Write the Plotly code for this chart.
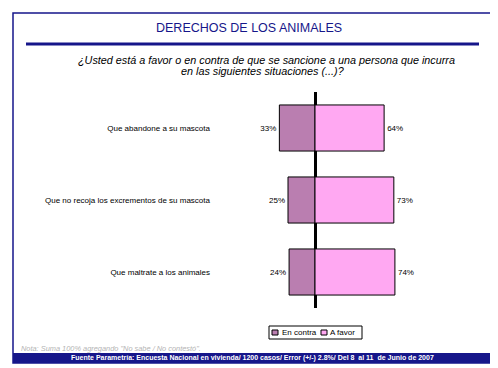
import plotly.graph_objects as go

categories = ["Que abandone a su mascota",
              "Que no recoja los excrementos de su mascota",
              "Que maltrate a los animales"]
en_contra = [33, 25, 24]
a_favor = [64, 73, 74]
series_names = ["En contra", "A favor"]
colors = ["#BA7EB0", "#FFA8F2"]

# page has an 8px body margin; figure coordinates are page coordinates minus OFF
OFF = 8
W, H = 490, 360
NAVY = "#16168A"
FONT = "Liberation Sans, Arial, sans-serif"

def px(x):
    return (x - OFF) / W

def py(y):
    return 1 - (y - OFF) / H

fig = go.Figure()
fig.add_trace(go.Bar(
    y=categories, x=[-v for v in en_contra], orientation="h",
    name=series_names[0], marker=dict(color=colors[0], line=dict(color="black", width=1)),
    text=[f"{v}%" for v in en_contra], textposition="outside",
    textfont=dict(size=8, color="black", family=FONT), cliponaxis=False, showlegend=False))
fig.add_trace(go.Bar(
    y=categories, x=a_favor, orientation="h",
    name=series_names[1], marker=dict(color=colors[1], line=dict(color="black", width=1)),
    text=[f"{v}%" for v in a_favor], textposition="outside",
    textfont=dict(size=8, color="black", family=FONT), cliponaxis=False, showlegend=False))

x0_px, x1_px, zero_px, scale = 213, 460, 315, 1.08
fig.update_layout(
    width=W, height=H, margin=dict(l=0, r=0, t=0, b=0),
    paper_bgcolor="white", plot_bgcolor="white",
    barmode="relative", bargap=0.36,
    font=dict(family=FONT, size=8, color="black"),
    xaxis=dict(domain=[px(x0_px), px(x1_px)],
               range=[(x0_px - zero_px) / scale, (x1_px - zero_px) / scale],
               showgrid=False, zeroline=True, zerolinecolor="black", zerolinewidth=2.5,
               showticklabels=False, showline=False, fixedrange=True),
    yaxis=dict(domain=[py(308), py(92)], autorange="reversed", showgrid=False,
               showline=False, ticks="", tickfont=dict(size=8, family=FONT),
               ticklabelstandoff=2),
)

shapes = [
    dict(type="rect", xref="paper", yref="paper", x0=px(13), x1=px(492.5), y0=py(363), y1=py(13),
         line=dict(color=NAVY, width=1.5)),
    dict(type="rect", xref="paper", yref="paper", x0=px(13), x1=px(493), y0=py(363), y1=py(353),
         fillcolor=NAVY, line=dict(width=0)),
    dict(type="rect", xref="paper", yref="paper", x0=px(26), x1=px(479), y0=py(45.5), y1=py(42.5),
         fillcolor=NAVY, line=dict(width=0)),
    # legend box
    dict(type="rect", xref="paper", yref="paper", x0=px(269), x1=px(362), y0=py(339), y1=py(326),
         line=dict(color="black", width=1), fillcolor="white"),
    dict(type="rect", xref="paper", yref="paper", x0=px(272), x1=px(278), y0=py(335), y1=py(330),
         line=dict(color="black", width=1), fillcolor=colors[0]),
    dict(type="rect", xref="paper", yref="paper", x0=px(321), x1=px(327), y0=py(335), y1=py(330),
         line=dict(color="black", width=1), fillcolor=colors[1]),
]
fig.update_layout(shapes=shapes)

ann = [
    dict(text="DERECHOS DE LOS ANIMALES", x=px(249), y=py(28), font=dict(size=12.5, color=NAVY, family=FONT)),
    dict(text="<i>¿Usted está a favor o en contra de que se sancione a una persona que incurra</i>",
         x=px(266), y=py(60), font=dict(size=10.8, color="black", family=FONT)),
    dict(text="<i>en las siguientes situaciones (...)?</i>",
         x=px(262), y=py(71), font=dict(size=10.8, color="black", family=FONT)),
    dict(text="<i>Nota: Suma 100% agregando \"No sabe / No contestó\".</i>", x=px(19), y=py(348),
         xanchor="left", font=dict(size=7.4, color="#B4B4B4", family=FONT)),
    dict(text="<b>Fuente Parametría: Encuesta Nacional en vivienda/ 1200 casos/ Error (+/-) 2.8%/ Del 8  al 11  de Junio de 2007</b>",
         x=px(252), y=py(358), font=dict(size=7, color="white", family=FONT)),
    dict(text=series_names[0], x=px(279.5), y=py(332.5), xanchor="left", font=dict(size=8, family=FONT)),
    dict(text=series_names[1], x=px(327.5), y=py(332.5), xanchor="left", font=dict(size=8, family=FONT)),
]
for a in ann:
    a.setdefault("xanchor", "center")
    a.update(xref="paper", yref="paper", yanchor="middle", showarrow=False)
fig.update_layout(annotations=ann)

fig.write_html("out.html")
